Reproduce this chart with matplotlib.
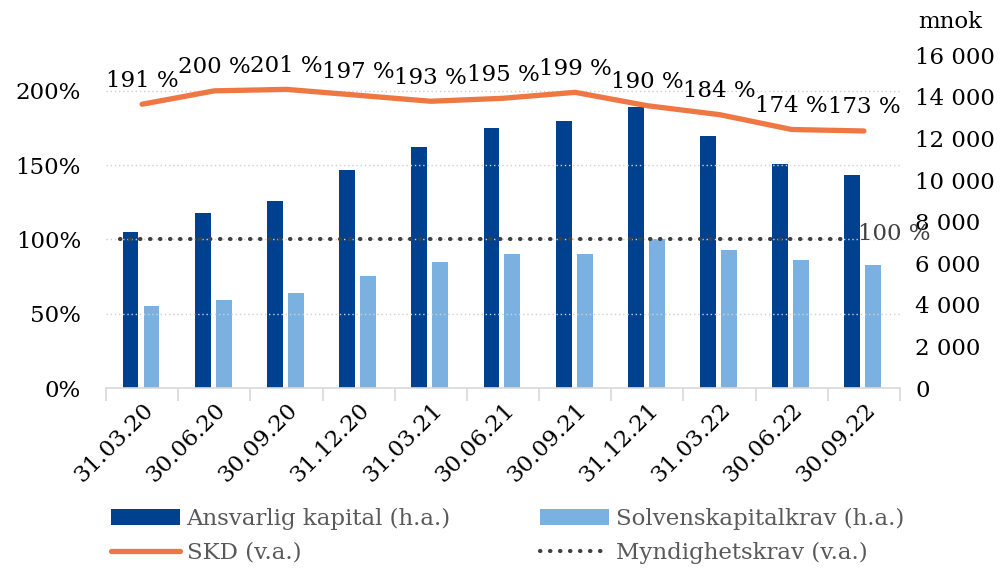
import matplotlib.pyplot as plt
import numpy as np

# data
datoer = ["31.03.20", "30.06.20", "30.09.20", "31.12.20", "31.03.21", "30.06.21",
          "30.09.21", "31.12.21", "31.03.22", "30.06.22", "30.09.22"]
ansvarlig_kapital = [7500, 8400, 9000, 10500, 11600, 12500, 12850, 13500, 12100, 10750, 10250]
solvenskapitalkrav = [3950, 4230, 4550, 5380, 6050, 6430, 6430, 7150, 6630, 6150, 5900]
skd = [191, 200, 201, 197, 193, 195, 199, 190, 184, 174, 173]
myndighetskrav = [100] * len(datoer)

plt.rcParams['font.family'] = ['DejaVu Serif']
fs = 16.5

fig = plt.figure(figsize=(10, 5.69), dpi=100)
ax = fig.add_axes([0.106, 0.318, 0.794, 0.585])
ax2 = ax.twinx()

x = np.arange(len(datoer))

# søyler på høyre akse
ax2.bar(x - 0.16, ansvarlig_kapital, width=0.22, color='#00418F', label='Ansvarlig kapital (h.a.)')
ax2.bar(x + 0.13, solvenskapitalkrav, width=0.22, color='#7BB1E0', label='Solvenskapitalkrav (h.a.)')
ax2.set_ylim(0, 16000)
ax2.set_yticks(range(0, 16001, 2000))
ax2.set_yticklabels([f"{v:,}".replace(",", " ") for v in range(0, 16001, 2000)])

# linjer på venstre akse (tegnes over søylene)
ax.set_zorder(ax2.get_zorder() + 1)
ax.patch.set_visible(False)
ax.plot(x, skd, color='#EE7744', lw=3.8, solid_capstyle='round', label='SKD (v.a.)')
ax.plot(x - 0.3, myndighetskrav, color='#404040', lw=3, ls=(0, (0.1, 2.3)),
        dash_capstyle='round', label='Myndighetskrav (v.a.)')
ax.set_ylim(0, 224)
ax.set_xlim(-0.5, len(datoer) - 0.5)
ax.set_yticks([0, 50, 100, 150, 200])
ax.set_yticklabels(["0%", "50%", "100%", "150%", "200%"])
ax.yaxis.grid(True, color='#D0D0D0', ls=(0, (1, 2)), lw=1)

for xi, v in zip(x, skd):
    ax.annotate(f"{v} %", (xi, v), xytext=(0, 17), textcoords='offset points',
                ha='center', va='center', fontsize=fs, color='black')
ax.annotate(f"{myndighetskrav[-1]} %", (x[-1] - 0.3, myndighetskrav[-1]), xytext=(11, 4),
            textcoords='offset points', ha='left', va='center', fontsize=fs, color='#404040')

# x-akse
ax.set_xticks(x)
ax.set_xticklabels(datoer, rotation=45, ha='right', va='top', rotation_mode='anchor', fontsize=fs)
ax.tick_params(axis='x', length=0, pad=8)
ax.set_xticks(np.arange(len(datoer) + 1) - 0.5, minor=True)
ax.tick_params(axis='x', which='minor', length=9, color='#D9D9D9', width=1.2)
ax.tick_params(axis='y', length=0, labelsize=fs, pad=18)
ax2.tick_params(axis='y', length=0, labelsize=fs, pad=11)

for a in (ax, ax2):
    for s in ['top', 'left', 'right', 'bottom']:
        a.spines[s].set_visible(False)
ax.spines['bottom'].set_visible(True)
ax.spines['bottom'].set_color('#D9D9D9')
ax.spines['bottom'].set_linewidth(1.2)

fig.text(0.918, 0.961, "mnok", fontsize=fs, ha='left', va='center')

# forklaring (rad 1: søyler, rad 2: linjer)
h1, l1 = ax2.get_legend_handles_labels()
h2, l2 = ax.get_legend_handles_labels()
handles = [h1[0], h2[0], h1[1], h2[1]]
labels = [l1[0], l2[0], l1[1], l2[1]]
fig.legend(handles, labels, loc='upper left', bbox_to_anchor=(0.111, 0.107), ncol=2,
           frameon=False, fontsize=fs, labelcolor='#595959', handlelength=3.0,
           handleheight=0.7, columnspacing=3.9, labelspacing=0.5, handletextpad=0.3,
           borderpad=0, borderaxespad=0)

fig.savefig("out.png", dpi=100)
